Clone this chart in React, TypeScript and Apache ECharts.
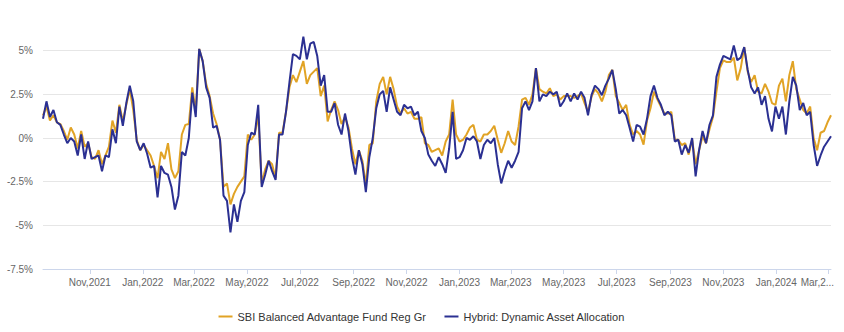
import React, { useEffect, useRef } from 'react';
import * as echarts from 'echarts';

const startDate = '2021-09-08';
const stepDays = 4;
const fundName = 'SBI Balanced Advantage Fund Reg Gr';
const categoryName = 'Hybrid: Dynamic Asset Allocation';

const fundValues = [
  1.3, 1.8, 1.0, 1.3, 0.9, 0.8, 0.4, -0.1, 0.6, 0.2,
  -0.6, 0.4, -0.5, -0.3, -1.1, -1.2, -0.7, -1.5, -1.0, -0.5,
  1.0, 0.3, 1.9, 0.95, 1.9, 2.8, 1.6, -0.1, -0.7, -0.4,
  -0.7, -1.0, -1.6, -2.3, -0.8, -1.2, -0.3, -1.8, -2.3, -1.9,
  0.2, 0.75, 0.8, 2.9, 1.5, 5.1, 4.4, 3.1, 2.4, 1.4,
  0.8, -0.1, -2.8, -2.6, -3.8, -3.2, -2.8, -2.5, -2.2, 0.2,
  -0.1, 0.2, 1.3, -2.6, -1.8, -1.3, -1.5, -2.3, 0.3, 0.3,
  1.5, 2.9, 3.6, 3.2, 3.8, 4.4, 3.1, 3.6, 3.8, 4.0,
  2.4, 3.0, 0.95, 1.6, 2.1, 1.6, 0.8, 1.2, 0.6, -0.6,
  -1.5, -0.7, -1.3, -2.7, -0.4, -0.3, 2.1, 3.1, 3.5, 2.5,
  3.5, 2.8, 1.8, 1.4, 1.7, 1.4, 1.5, 1.1, 1.1, 1.2,
  -0.3, -0.4, -0.8, -0.7, -0.6, -1.0, -0.2, 0.2, 2.2, 0.2,
  -0.2, -0.1, 0.2, 0.6, 0.75, -0.1, -0.2, 0.2, 0.2, 0.4,
  0.7, -0.1, -0.85, -0.3, 0.4, -0.2, -0.4, 0.66, 2.2, 2.3,
  1.9, 2.5, 4.0, 2.8, 2.65, 2.55, 2.85, 2.4, 2.5, 2.2,
  2.4, 2.4, 2.4, 2.3, 2.4, 2.55, 2.0, 1.5, 2.35, 2.8,
  2.55, 2.1, 2.65, 3.6, 3.9, 2.4, 2.0, 1.6, 1.9, 0.75,
  0.2, 0.4, 0.2, -0.38, 1.0, 1.7, 2.65, 2.2, 1.8, 1.4,
  1.4, 1.5, -0.1, -0.1, -0.4, -0.3, -0.95, -0.1, -1.5, -0.7,
  0.1, -0.3, 0.5, 1.2, 2.65, 4.0, 4.45, 4.35, 4.35, 4.6,
  3.3, 4.0, 5.2, 3.8, 3.2, 3.6, 2.65, 2.55, 3.1, 2.65,
  2.0, 1.9, 3.0, 3.4, 2.1, 3.6, 4.4, 2.8, 2.2, 1.6,
  1.4, 1.8, 0.0, -0.7, 0.3, 0.4, 0.9, 1.3,
];

const categoryValues = [
  1.1, 2.1, 1.2, 1.6, 0.9, 0.75, 0.2, -0.3, 0.0, -0.2,
  -1.0, 0.2, -1.2, -0.2, -1.2, -1.1, -1.0, -1.9, -1.0, -1.1,
  0.5, -0.3, 1.8, 0.7, 2.0, 3.0, 2.1, -0.2, -0.7, -0.3,
  -0.9, -1.7, -1.6, -3.4, -1.6, -2.0, -2.1, -2.8, -4.1, -3.3,
  -0.8, -1.0, 0.0, 2.6, 1.2, 5.1, 4.4, 2.9, 2.3, 0.6,
  0.7, -0.1, -3.3, -3.6, -5.4, -3.8, -4.8, -3.6, -3.1, -0.4,
  0.3, 0.2, 1.9, -2.8, -2.1, -1.3, -1.9, -2.4, 0.2, 0.2,
  1.5, 3.2, 4.8, 4.7, 4.5, 5.8, 4.5, 5.4, 5.5, 4.7,
  3.0, 3.6, 1.5, 1.5, 2.0, 0.76, 0.2, 1.4, 0.4, -1.1,
  -2.1, -0.7, -1.5, -3.1, -1.1, 0.0, 1.7, 2.5, 2.7, 1.5,
  2.9, 2.2, 1.5, 1.3, 1.9, 1.7, 1.8, 1.3, 1.5, 0.4,
  0.0, -0.95, -1.3, -1.6, -1.1, -1.5, -2.0, -0.6, 1.5, -1.2,
  -1.1, -0.7, 0.0, -0.1, 0.1, -0.2, -1.2, -0.4, -0.1, -0.3,
  0.0, -1.5, -2.6, -1.9, -1.3, -1.7, -1.3, -0.8, 1.7, 2.1,
  1.6, 2.1, 4.0, 2.1, 2.5, 2.4, 2.65, 2.5, 2.65, 1.8,
  2.1, 2.55, 2.1, 2.55, 2.2, 2.65, 2.3, 1.3, 2.45, 3.0,
  2.8, 2.45, 3.0, 3.4, 3.9, 2.8, 1.4, 1.6, 1.3, 0.57,
  -0.2, 0.75, 0.65, 0.2, 1.1, 2.4, 3.0, 2.3, 1.9, 1.3,
  1.5, 1.3, -0.2, -0.1, -0.95, -0.4, -0.85, 0.0, -2.2, -0.7,
  0.4, -0.3, 0.76, 1.3, 3.5, 4.2, 4.7, 4.6, 4.5, 5.3,
  4.45, 4.6, 5.2, 3.9, 2.9, 2.55, 2.9, 1.9, 2.4, 1.1,
  0.38, 1.8, 1.1, 1.8, 0.2, 2.1, 3.5, 3.0, 1.6, 2.0,
  1.3, 1.5, -0.4, -1.6, -1.0, -0.5, -0.2, 0.1,
];

const xTickDates = [
  '2021-11-01', '2022-01-01', '2022-03-01', '2022-05-01', '2022-07-01',
  '2022-09-01', '2022-11-01', '2023-01-01', '2023-03-01', '2023-05-01',
  '2023-07-01', '2023-09-01', '2023-11-01', '2024-01-01', '2024-03-01',
];
const monthNames = ['Jan', 'Feb', 'Mar', 'Apr', 'May', 'Jun', 'Jul', 'Aug', 'Sep', 'Oct', 'Nov', 'Dec'];
const yMin = -7.5;
const yMax = 7.5;
const yStep = 2.5;

const FONT = '"Liberation Sans", Arial, sans-serif';
const DAY = 86400000;

function toTs(s: string) {
  return Date.parse(s + 'T00:00:00Z');
}

export default function App() {
  const ref = useRef<HTMLDivElement>(null);
  useEffect(() => {
    if (!ref.current) return;
    const chart = echarts.init(ref.current, undefined, { renderer: 'svg' });
    const t0 = toTs(startDate);
    // x values are days since startDate
    const days = fundValues.map((_, i) => i * stepDays);
    const tickDays = xTickDates.map((s) => Math.round((toTs(s) - t0) / DAY));
    const lastTick = tickDays[tickDays.length - 1];
    const nLines = Math.round((yMax - yMin) / yStep) + 1;
    const splitColors = Array.from({ length: nLines }, (_, i) => (i === nLines - 1 ? 'rgba(0,0,0,0)' : '#e6e6e6'));

    chart.setOption({
      animation: false,
      grid: { left: 43, right: 13, top: 7, bottom: 63, containLabel: false },
      legend: {
        data: [fundName, categoryName],
        left: 'center',
        top: 306,
        icon: 'rect',
        itemWidth: 14,
        itemHeight: 2,
        itemGap: 18,
        textStyle: { fontSize: 11, color: '#333', fontFamily: FONT },
      },
      xAxis: {
        type: 'value',
        min: 0,
        max: days[days.length - 1],
        axisLine: { show: true, onZero: false, lineStyle: { color: '#ccd6eb', width: 1 } },
        axisTick: { show: true, customValues: tickDays, length: 5, lineStyle: { color: '#ccd6eb' } },
        splitLine: { show: false },
        axisLabel: {
          customValues: tickDays,
          color: '#666',
          fontSize: 10,
          fontFamily: FONT,
          margin: 8,
          hideOverlap: false,
          showMinLabel: true,
          showMaxLabel: true,
          formatter: (v: number) => {
            const d = new Date(t0 + v * DAY);
            const s = monthNames[d.getUTCMonth()] + ',' + d.getUTCFullYear();
            if (Math.abs(v - lastTick) < 1) return '{t|' + s.slice(0, 5) + '...}';
            return s;
          },
          rich: { t: { fontSize: 10, color: '#666', fontFamily: FONT, padding: [0, 22, 0, 0] } },
        },
      },
      yAxis: {
        type: 'value',
        min: yMin,
        max: yMax,
        interval: yStep,
        axisLine: { show: false },
        axisTick: { show: false },
        splitLine: { show: true, lineStyle: { color: splitColors, width: 1 } },
        axisLabel: {
          color: '#666',
          fontSize: 10,
          fontFamily: FONT,
          margin: 10,
          formatter: (v: number) => (v >= yMax ? '' : v + '%'),
        },
      },
      series: [
        {
          name: fundName,
          type: 'line',
          data: days.map((d, i) => [d, fundValues[i]]),
          showSymbol: false,
          symbol: 'none',
          lineStyle: { color: '#E1A325', width: 2 },
          itemStyle: { color: '#E1A325' },
        },
        {
          name: categoryName,
          type: 'line',
          data: days.map((d, i) => [d, categoryValues[i]]),
          showSymbol: false,
          symbol: 'none',
          lineStyle: { color: '#2B3092', width: 2 },
          itemStyle: { color: '#2B3092' },
        },
      ],
    });
    return () => chart.dispose();
  }, []);
  return <div ref={ref} style={{ position: 'fixed', left: 0, top: 0, width: 844, height: 332, background: '#fff' }} />;
}
